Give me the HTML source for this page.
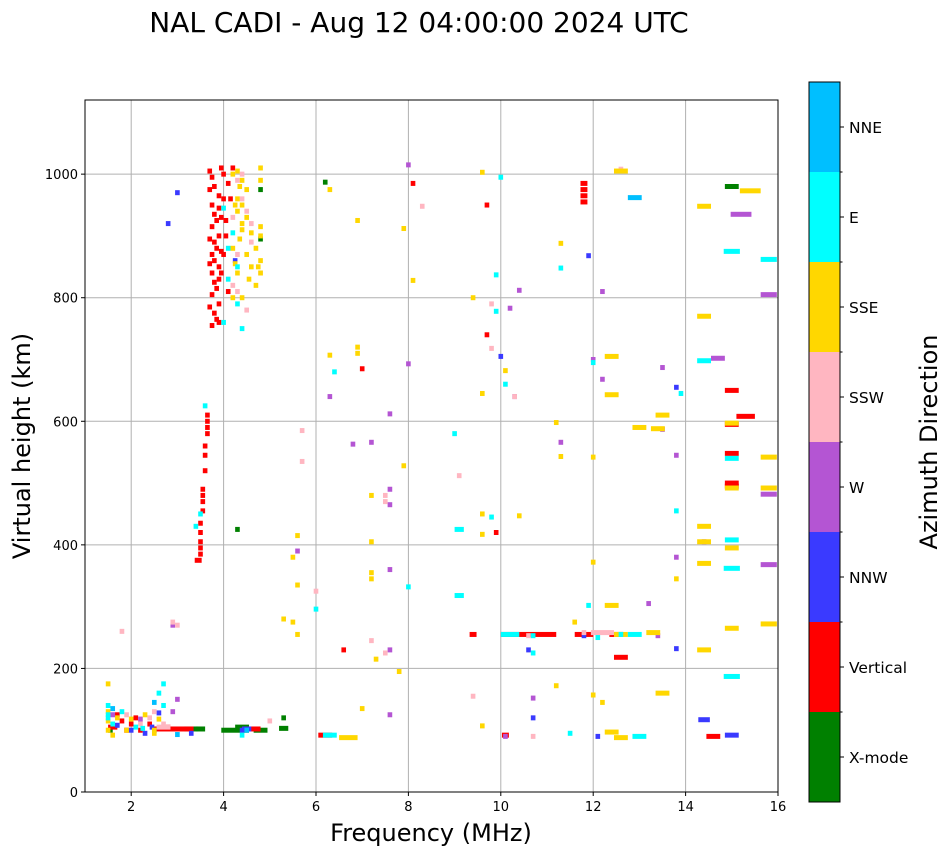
<!DOCTYPE html>
<html><head><meta charset="utf-8"><style>
body{margin:0;background:#fff;}
svg text{font-family:"DejaVu Sans","Liberation Sans",sans-serif;}
</style></head><body>
<svg id="chart" width="951" height="856" xmlns="http://www.w3.org/2000/svg"></svg>
<script>
// ---- data: [freqMHz, heightKm, freqSpanMHz(optional)] per azimuth direction ----
const xmodePts=[[4.3,425],[4.25,100,0.6],[4.8,100,0.3],[5.3,103,0.2],[3.3,102,0.3],[4.8,895],[4.8,975],[6.2,987],[15.0,980,0.3],[1.55,100],[3.5,102,0.2],[4.4,105,0.3],[5.3,120]];
const verticalPts=[[3.45,375,0.15],[3.5,385],[3.5,395],[3.5,405],[3.5,420],[3.5,435],[3.55,455],[3.55,470],[3.55,480],[3.55,490],[3.6,520],[3.6,545],[3.6,560],[3.65,580],[3.65,590],[3.65,600],[3.65,610],
[3.75,755],[3.85,765],[3.8,775],[3.9,790],[3.75,805],[3.85,815],[3.8,825],[3.75,840],[3.9,850],[3.8,860],[3.75,870],[3.85,880],[3.8,890],[3.9,900],[3.75,915],[3.85,925],[3.8,935],[3.75,950],[3.9,965],[3.8,980],[3.75,995],[3.7,1005],[3.95,840],[3.95,930],[4.2,1010],[4.1,985],[4.15,960],[4.05,900],[4.0,1000],[4.0,960],
[3.9,760],[3.7,785],[3.9,830],[3.7,855],[3.95,875],[3.7,895],[3.9,945],[3.95,1010],[3.7,975],[4.05,925],[4.1,810],[4.0,870],
[1.6,105,0.2],[1.8,115],[2.0,110],[2.2,100],[2.9,102,0.9],[1.7,125],[1.9,100],[2.1,120],[2.4,110],[2.8,105],[4.6,102,0.4],
[6.6,230],[7.0,685],[9.4,255,0.15],[9.7,950],[9.7,740],[9.9,420],[10.1,92,0.15],[10.6,255,1.2],[11.8,255,0.4],[12.5,255,0.3],[12.6,218,0.3],[11.8,955,0.15],[11.8,965,0.15],[11.8,975,0.15],[11.8,985,0.15],[8.1,985],[14.6,90,0.3],[15.0,495,0.3],[15.0,500,0.3],[15.0,548,0.3],[15.0,595,0.3],[15.0,650,0.3],[15.3,608,0.4],[6.2,92,0.3]];
const nnwPts=[[2.3,95],[2.5,100],[3.3,95],[10.6,230],[10.7,120],[11.9,868],[11.8,253],[12.1,90],[13.8,232],[13.8,655],[14.4,117,0.25],[15.0,92,0.3],[10.0,705],[4.4,100],[2.8,920],[3.0,970],[4.25,860],[1.7,108],[2.0,100],[2.6,128],[2.45,105],[4.5,102,0.2]];
const wPts=[[1.6,125],[2.9,270],[7.6,612],[7.6,490],[7.6,465],[7.6,360],[7.6,230],[6.8,563],[7.2,566],[8.0,693],[8.0,1015],[10.2,783],[10.4,812],[11.3,566],[12.2,810],[12.2,668],[13.2,305],[13.4,253],[13.5,687],[13.5,587],[13.8,545],[13.8,380],[14.4,405],[14.7,702,0.3],[15.2,935,0.45],[15.8,482,0.35],[15.8,368,0.35],[15.8,805,0.35],[10.3,640],[10.7,152],[5.6,390],[12.0,700],[3.0,150],[7.6,125],[10.1,90],[6.3,640],[2.2,118],[2.9,130]];
const sswPts=[[1.8,260],[2.9,275],[2.2,110],[2.5,130],[4.4,960],[4.5,940],[4.3,870],[4.6,920],[4.8,840],[4.2,820],[4.5,780],[5.0,115],[5.7,585],[5.7,535],[6.0,325],[7.5,470],[7.5,480],[8.3,948],[9.1,512],[9.4,155],[9.8,790],[9.8,718],[10.3,640],[10.7,90],[11.8,258],[12.2,258,0.5],[12.6,1008],[10.6,253],[3.0,270],[7.2,245],[7.5,225],[1.9,125],[2.4,120],[2.7,110],[2.7,105,0.3],[4.3,990],[4.4,1000],[4.2,930],[4.6,890],[4.3,810]];
const ssePts=[[1.5,175],[1.5,100],[1.9,100],[2.5,100],[4.3,1005],[4.4,990],[4.8,1010],[4.8,990],[4.3,940],[4.4,920],[4.6,905],[4.8,915],[4.8,900],[4.2,880],[4.5,870],[4.8,860],[4.8,840],[4.6,850],[4.4,800],[4.7,820],[4.2,800],[4.3,960],[4.5,975],[4.35,895],
[4.2,1000],[4.35,980],[4.25,950],[4.5,930],[4.4,910],[4.7,880],[4.3,840],[4.55,830],[4.75,850],[4.25,855],[4.4,950],
[5.6,415],[5.5,380],[5.6,335],[5.6,255],[5.5,275],[6.3,975],[6.3,707],[6.7,88,0.4],[6.9,720],[6.9,710],[6.9,925],[7.2,355],[7.2,345],[7.2,405],[7.2,480],[7.3,215],[7.8,195],[7.9,528],[7.9,912],[8.1,828],[9.6,1003],[9.4,800],[9.6,645],[9.6,450],[9.6,417],[9.6,107],[10.1,682],[10.4,447],[11.2,598],[11.3,888],[11.3,543],[11.2,172],[11.6,275],[12.0,542],[12.0,372],[12.0,157],[12.2,145],[12.4,705,0.3],[12.4,643,0.3],[12.4,302,0.3],[12.4,97,0.3],[12.6,88,0.3],[12.6,1005,0.3],[13.0,590,0.3],[13.3,258,0.3],[13.5,610,0.3],[13.4,588,0.3],[13.5,160,0.3],[13.8,345],[14.4,948,0.3],[14.4,770,0.3],[14.4,430,0.3],[14.4,405,0.3],[14.4,370,0.3],[14.4,230,0.3],[15.0,597,0.3],[15.0,492,0.3],[15.0,395,0.3],[15.0,265,0.3],[15.4,973,0.45],[15.8,542,0.35],[15.8,492,0.35],[15.8,272,0.35],[12.6,255,0.3],[5.3,280],[7.0,135],[1.5,115],[1.5,130],[1.7,120],[2.0,118],[2.3,125],[2.6,118],[2.5,95],[1.6,92]];
const ePts=[[1.5,125],[1.6,110],[2.7,175],[2.6,160],[3.5,450],[3.4,430],[3.6,625],[4.0,945],[4.1,880],[4.3,850],[4.4,750],[4.0,760],[6.0,296],[6.4,680],[9.0,580],[9.1,425,0.2],[9.1,318,0.2],[9.8,445],[9.9,837],[9.9,778],[10.1,660],[10.2,255,0.4],[10.7,253],[11.3,848],[11.5,95],[11.9,302],[12.1,250],[12.6,255],[12.9,255,0.3],[13.0,90,0.3],[13.9,645],[13.8,455],[14.4,698,0.3],[15.0,875,0.35],[15.0,540,0.3],[15.0,408,0.3],[15.0,362,0.35],[15.0,187,0.35],[15.8,862,0.35],[10.7,225],[8.0,332],[6.3,92,0.3],[4.4,92],[10.0,995],[12.0,695],[1.5,140],[1.8,130],[2.1,105],[2.7,140],[1.5,120],[2.25,103],[4.1,830],[4.3,790],[4.2,905]];
const nnePts=[[1.6,135],[2.5,145],[3.0,93],[12.9,962,0.3],[4.5,100]];
const series=[xmodePts,verticalPts,nnwPts,wPts,sswPts,ssePts,ePts,nnePts];
const seriesNames=["X-mode","Vertical","NNW","W","SSW","SSE","E","NNE"];
const seriesColors=["#008000","#ff0000","#3a3aff","#b455d3","#ffb6c1","#ffd700","#00ffff","#00bfff"];
const xTicks=[2,4,6,8,10,12,14,16];
const yTicks=[0,200,400,600,800,1000];

const NS="http://www.w3.org/2000/svg";
const svg=document.getElementById('chart');
const L=85,R=778,T=100,B=792,xMin=1,xMax=16,yMin=0,yMax=1120;
const xs=f=>L+(f-xMin)/(xMax-xMin)*(R-L);
const ys=h=>B-(h-yMin)/(yMax-yMin)*(B-T);
function mk(tag,attrs,parent){const e=document.createElementNS(NS,tag);for(const k in attrs)e.setAttribute(k,attrs[k]);(parent||svg).appendChild(e);return e;}

let t=mk('text',{x:419,y:32,'text-anchor':'middle','font-size':28});
t.textContent="NAL CADI - Aug 12 04:00:00 2024 UTC";



const grid=mk('g',{});


xTicks.forEach(v=>{
  mk('line',{x1:xs(v),x2:xs(v),y1:T,y2:B,stroke:'#b0b0b0','stroke-width':1},grid);
  mk('line',{x1:xs(v),x2:xs(v),y1:B,y2:B+4,stroke:'#000'});
  const tx=mk('text',{x:xs(v),y:B+19,'text-anchor':'middle','font-size':13});
  tx.textContent=v;
  
  
});
yTicks.forEach(v=>{
  mk('line',{x1:L,x2:R,y1:ys(v),y2:ys(v),stroke:'#b0b0b0','stroke-width':1},grid);
  mk('line',{x1:L-4,x2:L,y1:ys(v),y2:ys(v),stroke:'#000'});
  const ty=mk('text',{x:L-7,y:ys(v)+5,'text-anchor':'end','font-size':13});
  ty.textContent=v;
  
  
});

series.forEach((pts,i)=>{
  const g=mk('g',{fill:seriesColors[i]});
  
  
  pts.forEach(p=>{
    const span=p[2]||0.1;
    const r=mk('rect',{x:xs(p[0]-span/2),y:ys(p[1])-2.5,width:Math.max(3,xs(p[0]+span/2)-xs(p[0]-span/2)),height:5},g);
    
    
  });
});

const frame=mk('rect',{x:L,y:T,width:R-L,height:B-T,fill:'none',stroke:'#000','stroke-width':1});



let xl=mk('text',{x:431,y:841,'text-anchor':'middle','font-size':24});
xl.textContent="Frequency (MHz)";


let yl=mk('text',{x:0,y:0,'text-anchor':'middle','font-size':24,transform:'translate(30,446) rotate(-90)'});
yl.textContent="Virtual height (km)";



// colorbar
const cbX=809,cbW=31,cbT=82,cbB=802,seg=(cbB-cbT)/8;
const cb=mk('g',{});


seriesColors.forEach((c,i)=>{
  const y0=cbB-(i+1)*seg;
  mk('rect',{x:cbX,y:y0,width:cbW,height:seg,fill:c},cb);
  mk('line',{x1:cbX+cbW,x2:cbX+cbW+4,y1:y0+seg/2,y2:y0+seg/2,stroke:'#000'},cb);
  if(i>0) mk('line',{x1:cbX+cbW,x2:cbX+cbW+2.5,y1:cbB-i*seg,y2:cbB-i*seg,stroke:'#000'},cb);
  const lt=mk('text',{x:cbX+cbW+9,y:y0+seg/2+6,'font-size':15.5},cb);
  lt.textContent=seriesNames[i];
  
  
});
mk('rect',{x:cbX,y:cbT,width:cbW,height:cbB-cbT,fill:'none',stroke:'#000'},cb);
let cl=mk('text',{x:0,y:0,'text-anchor':'middle','font-size':24,transform:'translate(937,442) rotate(-90)'});
cl.textContent="Azimuth Direction";


</script>
</body></html>
